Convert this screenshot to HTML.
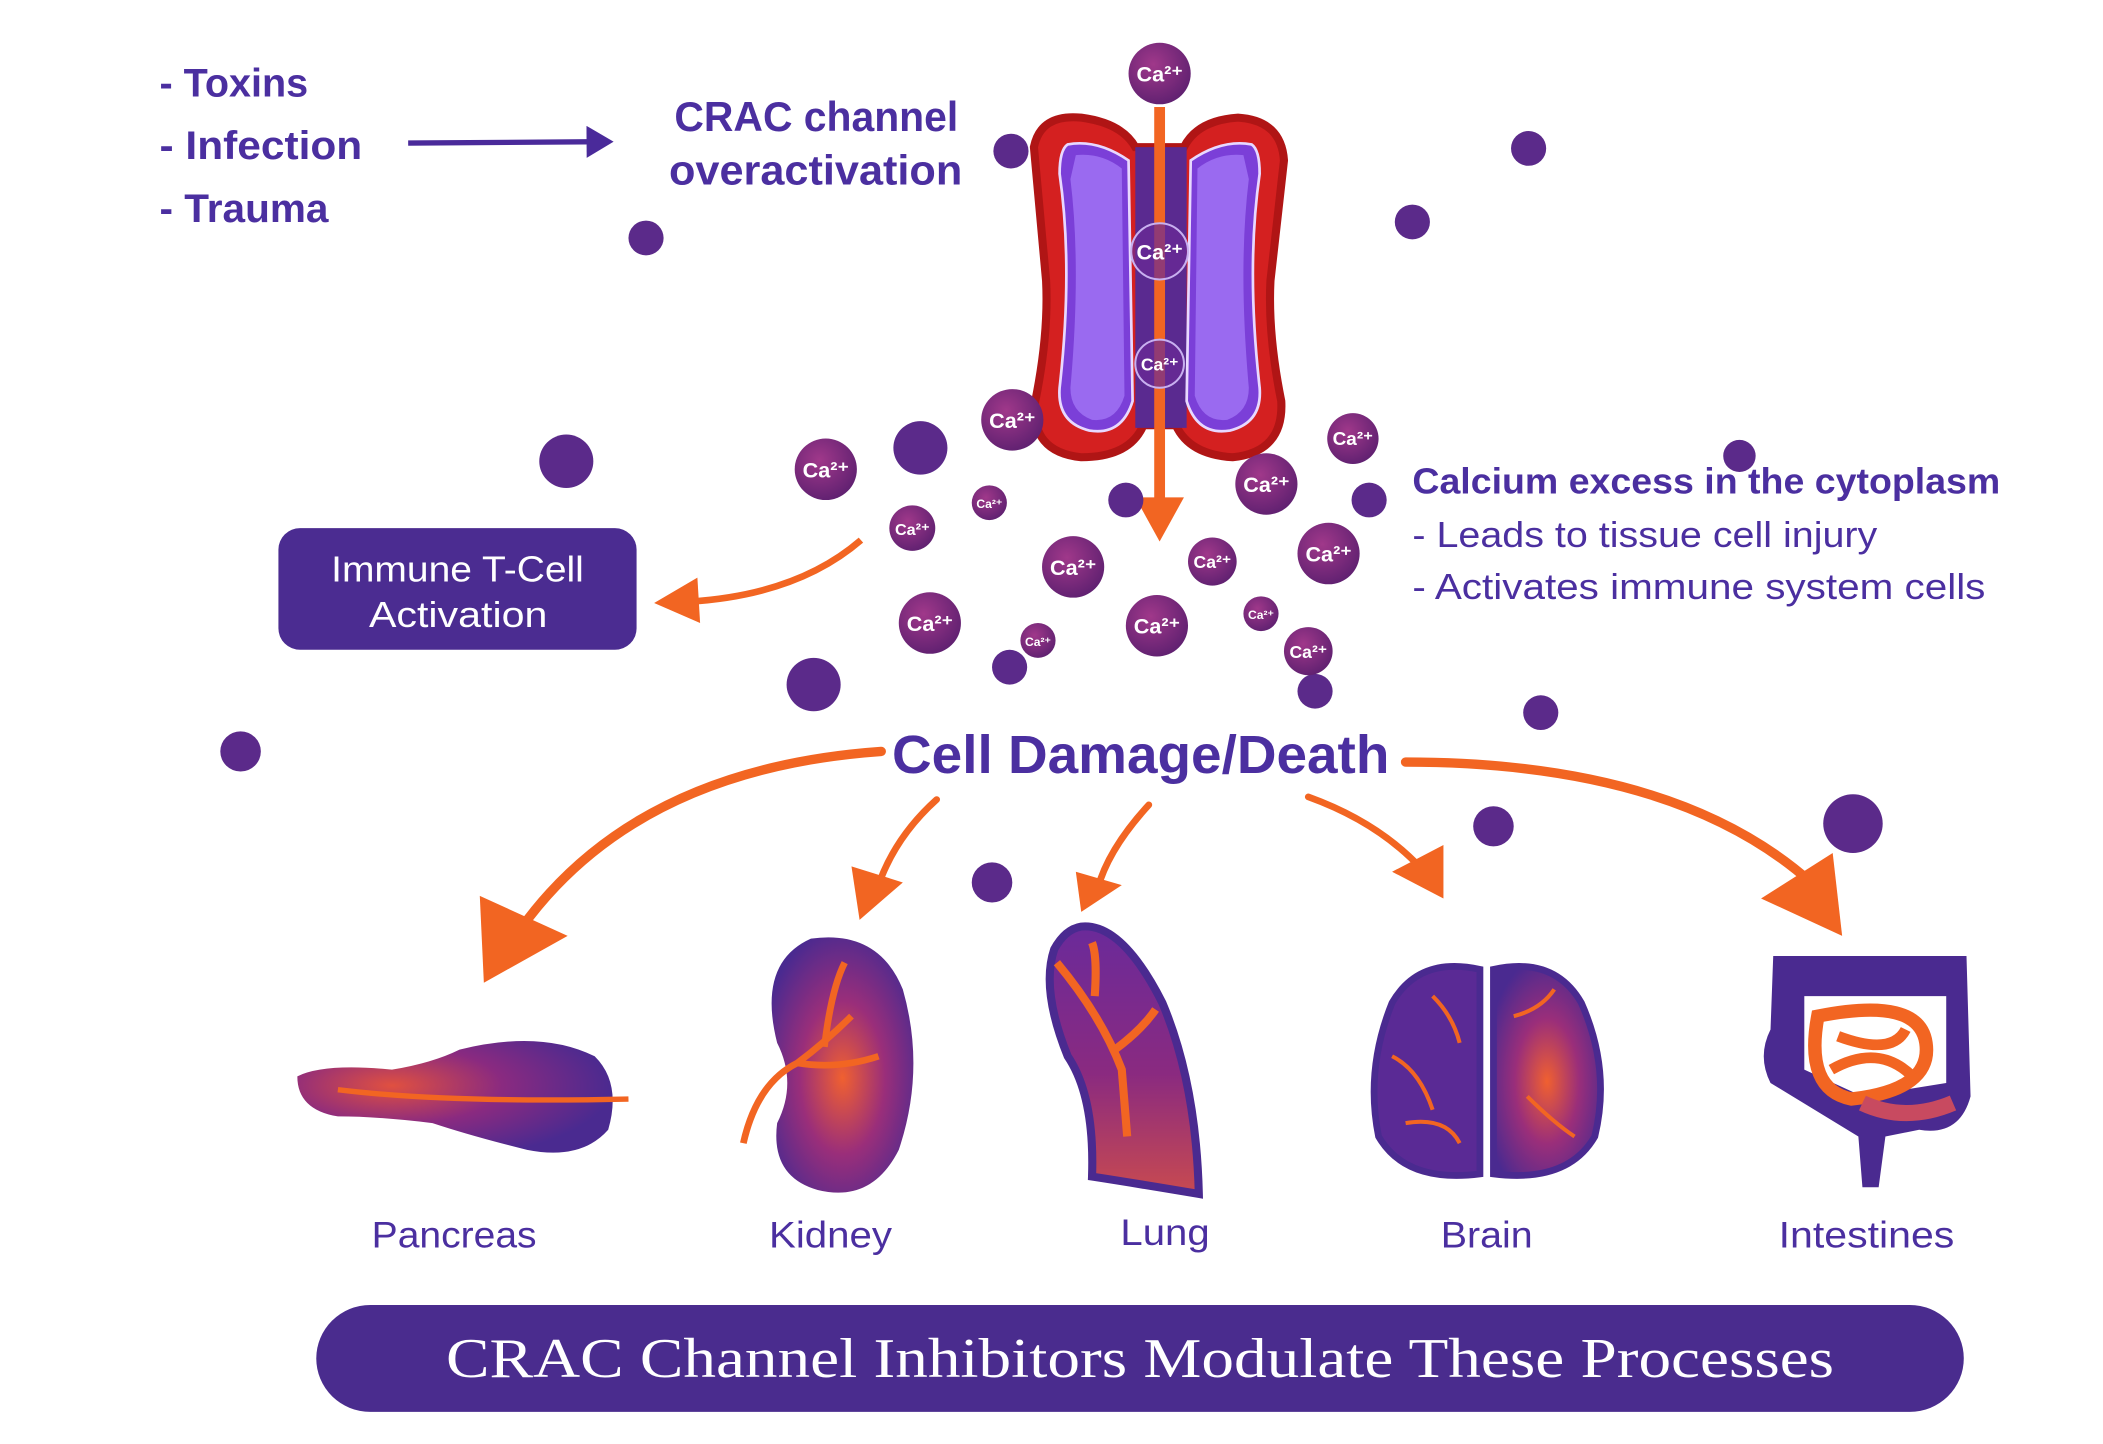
<!DOCTYPE html>
<html><head><meta charset="utf-8"><style>
html,body{margin:0;padding:0;background:#fff;overflow:hidden}
svg{display:block}
.s{font-family:"Liberation Sans",sans-serif}
.r{font-family:"Liberation Serif",serif}
</style></head><body>
<svg width="2103" height="1444" viewBox="0 0 1556 1080" preserveAspectRatio="none" xmlns="http://www.w3.org/2000/svg">
<defs>
<radialGradient id="ca" cx="40%" cy="35%" r="70%"><stop offset="0" stop-color="#a0388a"/><stop offset="1" stop-color="#5e2070"/></radialGradient>
<radialGradient id="org" cx="50%" cy="55%" r="60%"><stop offset="0" stop-color="#f06030"/><stop offset="0.5" stop-color="#9a2e7a"/><stop offset="1" stop-color="#4a2a90"/></radialGradient>
<radialGradient id="org2" cx="30%" cy="40%" r="70%"><stop offset="0" stop-color="#e05040"/><stop offset="0.5" stop-color="#8a2a80"/><stop offset="1" stop-color="#4a2a90"/></radialGradient>
<linearGradient id="lung" x1="0" y1="0" x2="0" y2="1"><stop offset="0" stop-color="#6a2a9a"/><stop offset="0.55" stop-color="#8a2a80"/><stop offset="1" stop-color="#c84a50"/></linearGradient>
<marker id="ahp" markerWidth="5" markerHeight="6" refX="3" refY="3" orient="auto" markerUnits="strokeWidth"><path d="M0,0 L5,3 L0,6 Z" fill="#4a2a9a"/></marker>
</defs>

<g class="s" fill="#4b2fa0" font-weight="bold" font-size="30">
<text x="118" y="72" textLength="110" lengthAdjust="spacingAndGlyphs">- Toxins</text>
<text x="118" y="119" textLength="150" lengthAdjust="spacingAndGlyphs">- Infection</text>
<text x="118" y="166" textLength="125" lengthAdjust="spacingAndGlyphs">- Trauma</text>
<text x="499" y="98" font-size="31" textLength="210" lengthAdjust="spacingAndGlyphs">CRAC channel</text>
<text x="495" y="138" font-size="31" textLength="217" lengthAdjust="spacingAndGlyphs">overactivation</text>
</g>
<line x1="302" y1="107" x2="446" y2="106" stroke="#4a2a9a" stroke-width="4" marker-end="url(#ahp)"/>

<!-- channel -->
<path d="M765,110 Q770,85 800,88 Q830,92 840,110 L876,110 Q886,90 916,88 Q948,90 950,120 L940,210 Q938,250 948,300 Q950,338 912,342 Q880,340 870,318 L846,318 Q836,342 800,342 Q762,338 766,300 Q776,250 774,210 Z" fill="#d42020" stroke="#b01515" stroke-width="6"/>
<path d="M840,110 L878,110 L878,320 L840,320 Z" fill="#5a2a90"/>
<path d="M790,108 Q812,104 835,120 L838,300 Q830,326 806,322 Q782,316 784,290 Q794,200 784,130 Q784,112 790,108 Z" fill="#7b3fd8" stroke="#e8d8ff" stroke-width="2"/>
<path d="M796,116 Q815,114 830,126 L832,296 Q826,316 808,314 Q792,308 792,290 Q800,200 792,134 Z" fill="#9a6af0"/>
<path d="M926,108 Q904,104 881,120 L878,300 Q886,326 910,322 Q934,316 932,290 Q922,200 932,130 Q932,112 926,108 Z" fill="#7b3fd8" stroke="#e8d8ff" stroke-width="2"/>
<path d="M920,116 Q901,114 886,126 L884,296 Q890,316 908,314 Q924,308 924,290 Q916,200 924,134 Z" fill="#9a6af0"/>
<line x1="858" y1="80" x2="858" y2="380" stroke="#f26522" stroke-width="8"/>
<path d="M840,372 L876,372 L858,405 Z" fill="#f26522"/>
<circle cx="858" cy="188" r="21" fill="#6a2a95" fill-opacity="0.7" stroke="#c8b0f0" stroke-width="1.5"/>
<circle cx="858" cy="272" r="18" fill="#6a2a95" fill-opacity="0.7" stroke="#c8b0f0" stroke-width="1.5"/>

<g fill="#5b2a8a">
<circle cx="748" cy="113" r="13"/><circle cx="478" cy="178" r="13"/><circle cx="1131" cy="111" r="13"/><circle cx="1045" cy="166" r="13"/>
<circle cx="419" cy="345" r="20"/><circle cx="681" cy="335" r="20"/><circle cx="833" cy="374" r="13"/><circle cx="1013" cy="374" r="13"/>
<circle cx="1287" cy="341" r="12"/><circle cx="602" cy="512" r="20"/><circle cx="747" cy="499" r="13"/><circle cx="973" cy="517" r="13"/>
<circle cx="1140" cy="533" r="13"/><circle cx="178" cy="562" r="15"/><circle cx="1105" cy="618" r="15"/><circle cx="1371" cy="616" r="22"/><circle cx="734" cy="660" r="15"/>
</g>

<g class="s" fill="#fff" font-weight="bold" text-anchor="middle">
<circle cx="858" cy="55" r="23" fill="url(#ca)"/><text x="858" y="61" font-size="16">Ca²⁺</text>
<text x="858" y="194" font-size="16">Ca²⁺</text>
<text x="858" y="277" font-size="13">Ca²⁺</text>
<circle cx="749" cy="314" r="23" fill="url(#ca)"/><text x="749" y="320" font-size="16">Ca²⁺</text>
<circle cx="611" cy="351" r="23" fill="url(#ca)"/><text x="611" y="357" font-size="16">Ca²⁺</text>
<circle cx="675" cy="395" r="17" fill="url(#ca)"/><text x="675" y="400" font-size="12">Ca²⁺</text>
<circle cx="732" cy="376" r="13" fill="url(#ca)"/><text x="732" y="380" font-size="9">Ca²⁺</text>
<circle cx="794" cy="424" r="23" fill="url(#ca)"/><text x="794" y="430" font-size="16">Ca²⁺</text>
<circle cx="897" cy="420" r="18" fill="url(#ca)"/><text x="897" y="425" font-size="13">Ca²⁺</text>
<circle cx="937" cy="362" r="23" fill="url(#ca)"/><text x="937" y="368" font-size="16">Ca²⁺</text>
<circle cx="1001" cy="328" r="19" fill="url(#ca)"/><text x="1001" y="333" font-size="14">Ca²⁺</text>
<circle cx="983" cy="414" r="23" fill="url(#ca)"/><text x="983" y="420" font-size="16">Ca²⁺</text>
<circle cx="688" cy="466" r="23" fill="url(#ca)"/><text x="688" y="472" font-size="16">Ca²⁺</text>
<circle cx="768" cy="479" r="13" fill="url(#ca)"/><text x="768" y="483" font-size="9">Ca²⁺</text>
<circle cx="856" cy="468" r="23" fill="url(#ca)"/><text x="856" y="474" font-size="16">Ca²⁺</text>
<circle cx="933" cy="459" r="13" fill="url(#ca)"/><text x="933" y="463" font-size="9">Ca²⁺</text>
<circle cx="968" cy="487" r="18" fill="url(#ca)"/><text x="968" y="492" font-size="13">Ca²⁺</text>
</g>

<rect x="206" y="395" width="265" height="91" rx="16" fill="#4b2c91"/>
<text class="s" x="245" y="435" fill="#fff" font-size="27" textLength="187" lengthAdjust="spacingAndGlyphs">Immune T-Cell</text>
<text class="s" x="273" y="469" fill="#fff" font-size="27" textLength="132" lengthAdjust="spacingAndGlyphs">Activation</text>
<path d="M637,404 Q590,445 510,450" fill="none" stroke="#f26522" stroke-width="5"/>
<path d="M516,432 L484,451 L518,466 Z" fill="#f26522"/>

<g class="s" fill="#4b2fa0">
<text x="1045" y="369" font-size="27" font-weight="bold" textLength="435" lengthAdjust="spacingAndGlyphs">Calcium excess in the cytoplasm</text>
<text x="1045" y="409" font-size="27" textLength="344" lengthAdjust="spacingAndGlyphs">- Leads to tissue cell injury</text>
<text x="1045" y="448" font-size="27" textLength="424" lengthAdjust="spacingAndGlyphs">- Activates immune system cells</text>
<text x="660" y="578" font-size="40" font-weight="bold" textLength="368" lengthAdjust="spacingAndGlyphs">Cell Damage/Death</text>
</g>

<g fill="none" stroke="#f26522" stroke-linecap="round">
<path d="M652,562 Q470,575 385,695" stroke-width="7"/>
<path d="M693,598 Q660,628 648,668" stroke-width="5"/>
<path d="M850,602 Q820,635 812,665" stroke-width="5"/>
<path d="M968,596 Q1020,615 1052,650" stroke-width="5"/>
<path d="M1040,570 Q1240,570 1340,660" stroke-width="7"/>
</g>
<g fill="#f26522">
<path d="M355,670 L420,700 L358,735 Z"/>
<path d="M630,648 L668,660 L636,688 Z"/>
<path d="M796,652 L830,662 L800,682 Z"/>
<path d="M1030,652 L1068,632 L1068,672 Z"/>
<path d="M1303,672 L1356,638 L1363,700 Z"/>
</g>

<path d="M220,805 Q240,795 290,800 Q320,795 340,785 Q400,770 440,790 Q460,810 450,845 Q430,868 390,860 Q350,850 320,840 Q280,835 250,835 Q220,830 220,805 Z" fill="url(#org2)"/>
<path d="M250,815 Q330,825 465,822" stroke="#f26522" stroke-width="4" fill="none"/>
<path d="M600,702 Q650,695 668,740 Q685,800 665,860 Q645,900 605,890 Q570,880 575,840 Q590,810 575,780 Q560,720 600,702 Z" fill="url(#org)"/>
<path d="M550,855 Q560,810 590,795 Q610,780 630,760 M590,795 Q620,800 650,790 M610,783 Q615,740 625,720" stroke="#f26522" stroke-width="5" fill="none"/>
<path d="M800,693 Q830,690 860,750 Q885,810 887,893 Q840,885 808,880 Q810,820 790,790 Q770,740 780,710 Q788,695 800,693 Z" fill="url(#lung)" stroke="#4a2a90" stroke-width="6"/>
<path d="M782,720 Q815,760 830,800 L834,850 M810,745 Q812,715 808,705 M825,785 Q845,770 855,755" stroke="#f26522" stroke-width="6" fill="none"/>
<path d="M1095,725 Q1050,715 1030,750 Q1010,800 1020,850 Q1040,885 1095,878 Z" fill="#5a2a95" stroke="#4a2a90" stroke-width="5"/>
<path d="M1105,725 Q1150,715 1170,750 Q1192,800 1180,850 Q1160,885 1105,878 Z" fill="url(#org)" stroke="#4a2a90" stroke-width="5"/>
<path d="M1030,790 Q1050,800 1060,830 M1040,840 Q1070,835 1080,855 M1120,760 Q1140,755 1150,740 M1130,820 Q1150,840 1165,850 M1060,745 Q1075,760 1080,780" stroke="#f26522" stroke-width="3" fill="none"/>
<path d="M1312,715 L1455,715 L1458,820 Q1450,850 1420,845 L1395,850 L1390,888 L1378,888 L1375,850 L1310,810 Q1300,790 1310,770 Z" fill="#4a2a90"/>
<path d="M1335,745 L1440,745 L1440,810 L1378,820 L1335,800 Z" fill="#fff"/>
<path d="M1345,760 Q1420,745 1425,780 Q1430,815 1370,822 Q1335,815 1345,760 Z" fill="none" stroke="#f26522" stroke-width="10"/>
<path d="M1360,775 Q1400,790 1410,770 M1355,800 Q1390,780 1415,805" stroke="#f26522" stroke-width="8" fill="none"/>
<path d="M1378,825 Q1410,840 1445,825" stroke="#c84a60" stroke-width="12" fill="none"/>

<g class="s" fill="#4b2fa0" font-size="28">
<text x="275" y="933" textLength="122" lengthAdjust="spacingAndGlyphs">Pancreas</text>
<text x="569" y="933" textLength="91" lengthAdjust="spacingAndGlyphs">Kidney</text>
<text x="829" y="931" textLength="66" lengthAdjust="spacingAndGlyphs">Lung</text>
<text x="1066" y="933" textLength="68" lengthAdjust="spacingAndGlyphs">Brain</text>
<text x="1316" y="933" textLength="130" lengthAdjust="spacingAndGlyphs">Intestines</text>
</g>

<rect x="234" y="976" width="1219" height="80" rx="40" fill="#4a2c8e"/>
<text class="r" x="330" y="1030" fill="#fff" font-size="42" textLength="1027" lengthAdjust="spacingAndGlyphs">CRAC Channel Inhibitors Modulate These Processes</text>
</svg>
</body></html>
